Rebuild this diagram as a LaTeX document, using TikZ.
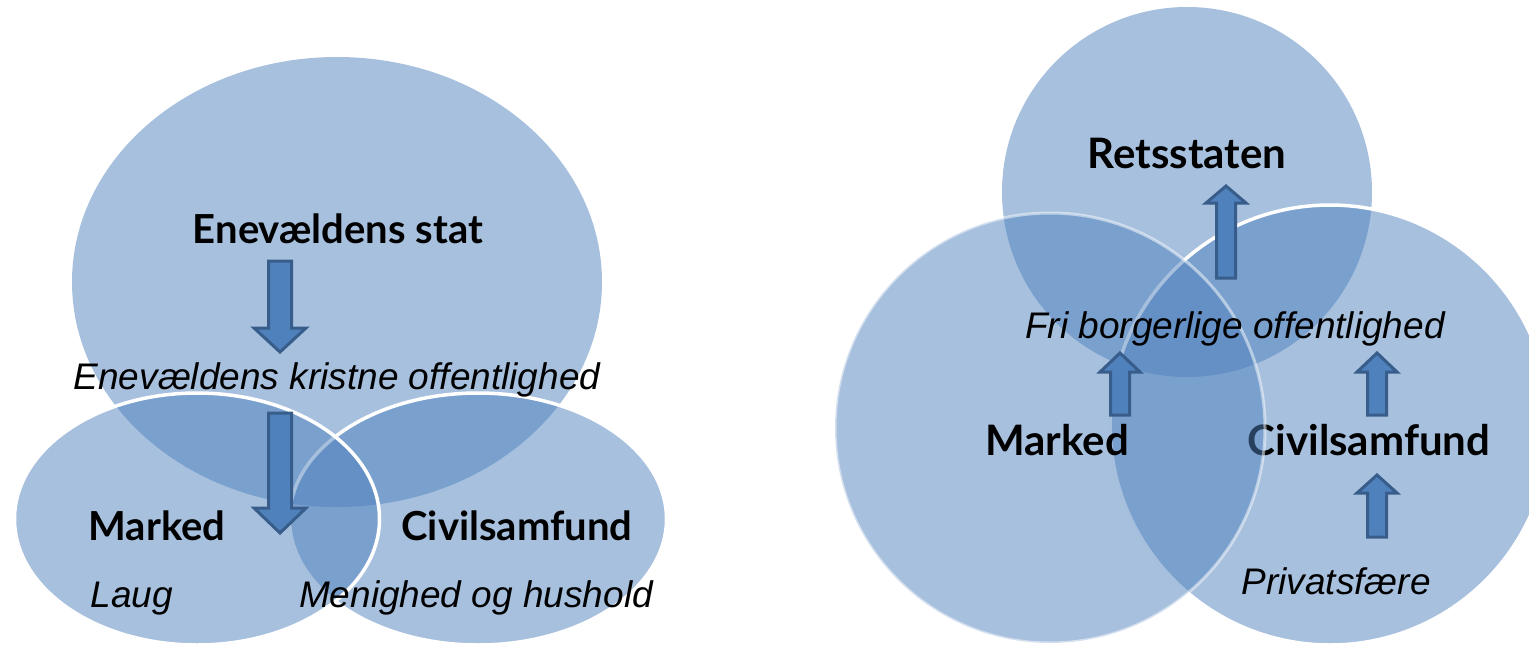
\documentclass[tikz,border=0pt]{standalone}
\usepackage{fontspec}
\setmainfont{Liberation Sans}
\newfontfamily\gillfont{Lato}
\usetikzlibrary{shapes.geometric}

\definecolor{venn}{HTML}{4F81BD}
\definecolor{arrowline}{HTML}{385D8A}

% block arrow: centre x, tail y, head base y, tip y, shaft half width, head half width
\newcommand{\blockarrow}[6]{%
  \draw[blockarr] (#1-#5,#2) -- (#1-#5,#3) -- (#1-#6,#3) -- (#1,#4)
    -- (#1+#6,#3) -- (#1+#5,#3) -- (#1+#5,#2) -- cycle;}

\begin{document}
\begin{tikzpicture}[x=1pt, y=-1pt,
    blob/.style={fill=venn, fill opacity=0.5, inner sep=0pt},
    rim/.style={draw=white, line width=3.5pt},
    faintrim/.style={draw=white, draw opacity=0.5, line width=3pt},
    blockarr/.style={draw=arrowline, fill=venn, line width=3pt, line join=miter},
    heading/.style={font=\gillfont\bfseries\fontsize{40}{44}\selectfont, anchor=base},
    bigheading/.style={font=\gillfont\bfseries\fontsize{42}{46}\selectfont, anchor=base},
    phrase/.style={font=\itshape\fontsize{37}{42}\selectfont, anchor=base}]

  \useasboundingbox (0,0) rectangle (1529,648);

  % left: the absolutist state
  \node[blob, ellipse, minimum width=530pt, minimum height=450pt] (stat) at (337,282) {};
  \node[blob, rim, ellipse, minimum width=377pt, minimum height=252pt] (civil) at (478,519) {};
  \node[blob, rim, ellipse, minimum width=365pt, minimum height=252pt] (marked) at (197,519) {};

  \node[heading] (statlabel) at (338,243) {Enevældens stat};
  \node[phrase] (offlabel) at (337,389) {Enevældens kristne offentlighed};
  \node[heading] (markedlabel) at (157,540) {Marked};
  \node[heading] (civillabel) at (517,540) {Civilsamfund};
  \node[phrase] (lauglabel) at (132,607) {Laug};
  \node[phrase] (menighedlabel) at (476,607) {Menighed og hushold};

  \blockarrow{280}{261}{328}{352}{11.5}{26}
  \blockarrow{280}{413}{508}{533}{11.5}{26}

  % right: the constitutional state
  \node[blob, circle, minimum size=370pt] (rets) at (1187,192) {};
  \node[blob, rim, circle, minimum size=440pt] (civil2) at (1330,425) {};
  \node[bigheading] (civil2label) at (1369,455) {Civilsamfund};
  \node[blob, faintrim, circle, minimum size=430pt] (marked2) at (1050,428) {};

  \node[bigheading] (retslabel) at (1187,168) {Retsstaten};
  \node[phrase] (frilabel) at (1235,338) {Fri borgerlige offentlighed};
  \node[bigheading] (marked2label) at (1057,455) {Marked};
  \node[phrase] (privatlabel) at (1336,594) {Privatsfære};

  \blockarrow{1226}{278}{203}{186}{9.5}{20}
  \blockarrow{1120}{415}{372}{353}{9.5}{20}
  \blockarrow{1377}{415}{372}{353}{9.5}{20}
  \blockarrow{1377}{537}{493}{475}{9.5}{20}

\end{tikzpicture}
\end{document}
